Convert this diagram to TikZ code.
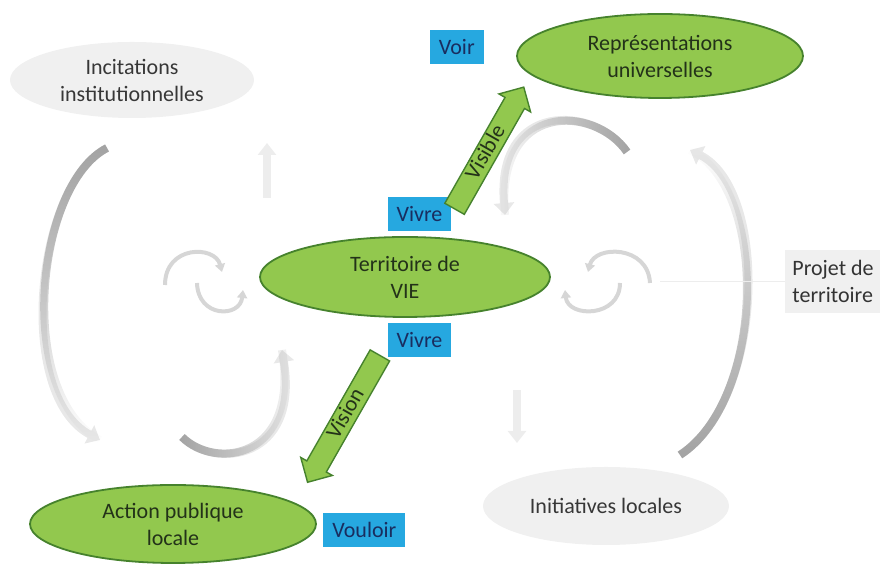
\documentclass[tikz,border=0pt]{standalone}
\usepackage{fontspec}
\setmainfont{Carlito}
\usetikzlibrary{shapes,arrows.meta,positioning,fadings}

\definecolor{leaf}{RGB}{146,200,78}
\definecolor{leafline}{RGB}{70,130,45}
\definecolor{leaftext}{RGB}{35,50,25}
\definecolor{sky}{RGB}{38,168,224}
\definecolor{skytext}{RGB}{25,45,95}
\definecolor{mist}{RGB}{240,240,240}
\definecolor{misttext}{RGB}{55,55,55}

\begin{document}
\begin{tikzpicture}[x=0.5pt, y=-0.5pt, font=\fontsize{11}{13.5}\selectfont]
	\tikzstyle{green ellipse}=[ellipse, draw=leafline, fill=leaf, text=leaftext, align=center, inner sep=0pt, line width=0.9pt]
	\tikzstyle{grey ellipse}=[ellipse, fill=mist, text=misttext, align=center, inner sep=0pt]
	\tikzstyle{tag}=[rectangle, fill=sky, text=skytext, minimum height=17pt, inner xsep=4.5pt]
	\tikzstyle{green arrow}=[single arrow, draw=leafline, fill=leaf, text=leaftext, line width=0.7pt, inner xsep=2pt, inner ysep=1pt, text height=7pt, text depth=1.5pt, single arrow head extend=3.5pt]
	\tikzstyle{swirl}=[line width=4pt, black!9, -{Triangle[width=10pt,length=6pt]}]
	\tikzstyle{swirl dark}=[line width=4pt, black!36]
	\tikzstyle{curl}=[line width=2pt, black!16, -{Triangle[width=5pt,length=4pt]}]
	\useasboundingbox (0,0) rectangle (880,565);

	% grey loops behind (y axis points down, so the fadings are turned round)
	\draw[swirl] (107,148) .. controls (35,185) and (15,395) .. (100,440);
	\draw[swirl dark, path fading=south] (107,148) .. controls (35,185) and (15,395) .. (100,440);
	\draw[swirl] (680,455) .. controls (765,400) and (770,190) .. (690,150);
	\draw[swirl dark, path fading=north] (680,455) .. controls (765,400) and (770,190) .. (690,150);
	\draw[swirl] (627,152) .. controls (595,105) and (495,100) .. (505,215);
	\draw[swirl dark, path fading=west] (627,152) .. controls (595,105) and (495,100) .. (505,215);
	\draw[swirl] (182,437) .. controls (215,470) and (300,460) .. (282,350);
	\draw[swirl dark, path fading=east] (182,437) .. controls (215,470) and (300,460) .. (282,350);
	\draw[line width=4pt, black!7, -{Triangle[width=9pt,length=6pt]}] (267,198) -- (267,143);
	\draw[line width=4pt, black!7, -{Triangle[width=9pt,length=6pt]}] (517,390) -- (517,443);
	\draw[curl] (165,285) .. controls (165,245) and (215,245) .. (222,272);
	\draw[curl] (197,283) .. controls (198,318) and (240,318) .. (243,290);
	\draw[curl] (650,283) .. controls (648,245) and (595,245) .. (588,272);
	\draw[curl] (620,283) .. controls (620,318) and (568,318) .. (565,290);

	\node[green ellipse, minimum width=145pt, minimum height=40pt] (TERR) at (405,277) {Territoire de\\VIE};
	\node[green ellipse, minimum width=143pt, minimum height=42pt] (REPR) at (660,56) {Représentations\\universelles};
	\node[green ellipse, minimum width=143pt, minimum height=39pt] (ACTION) at (173,524) {Action publique\\locale};
	\node[grey ellipse, minimum width=122pt, minimum height=38pt] (INCIT) at (132,80) {Incitations\\institutionnelles};
	\node[grey ellipse, minimum width=123pt, minimum height=39pt] (INIT) at (606,506) {Initiatives locales};
	\node[rectangle, fill=mist, text=black!80, align=left, inner xsep=3.5pt, minimum height=31.5pt, anchor=west] (PROJET) at (785,281.5) {Projet de\\territoire};

	\node[tag] (VIVREA) [above=2.5pt of TERR, xshift=7.25pt] {Vivre};
	\node[tag] (VIVREB) [below=2.5pt of TERR, xshift=7.25pt] {Vivre};
	\node[tag] (VOIR) [left=16pt of REPR, yshift=4.5pt] {Voir};
	\node[tag] (VOULOIR) [right=3pt of ACTION, yshift=-3pt] {Vouloir};

	\coordinate (VISIBLETIP) at (521,92);
	\coordinate (VISIONTIP) at (310,478);
	\coordinate (VISIONTAIL) at (383,350);
	\path (VIVREA.east) -- (VISIBLETIP) node[midway, sloped, green arrow, minimum height=70pt] {Visible};
	\path (VISIONTIP) -- (VISIONTAIL) node[midway, sloped, green arrow, shape border rotate=180, minimum height=73pt] {Vision};
	\draw[black!7, line width=0.8pt] (660,281.5) -- (PROJET.west);
\end{tikzpicture}
\end{document}
